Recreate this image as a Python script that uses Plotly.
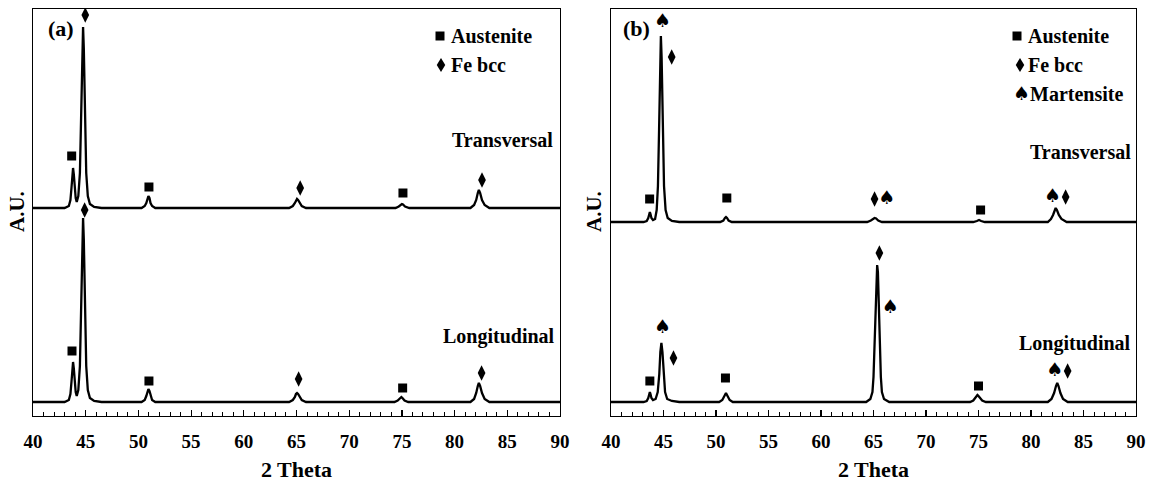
import plotly.graph_objects as go

# ---------------- data (2-theta in degrees, intensity in A.U. above each pattern's baseline) -------------
A_TRANSVERSAL = [(40.0, 0), (43.0, 0), (43.4, 2), (43.55, 8), (43.65, 20), (43.73, 34), (43.8, 40), (43.87, 34),
                 (43.95, 20), (44.05, 10), (44.15, 6), (44.3, 12), (44.45, 35), (44.58, 90), (44.68, 160), (44.75, 181),
                 (44.82, 160), (44.92, 90), (45.05, 35), (45.2, 12), (45.4, 4), (45.8, 1), (46.5, 0),
                 (50.3, 0), (50.6, 2), (50.75, 5), (50.85, 10), (50.95, 12), (51.05, 10), (51.15, 5), (51.3, 2), (51.6, 0),
                 (64.3, 0), (64.65, 2), (64.85, 5), (64.95, 8), (65.05, 9), (65.15, 8), (65.3, 5), (65.5, 2), (65.9, 0),
                 (74.4, 0), (74.7, 1.5), (74.9, 3.5), (75.0, 4), (75.1, 3.5), (75.3, 1.5), (75.7, 0),
                 (81.5, 0), (81.85, 3), (82.05, 8), (82.2, 15), (82.3, 18), (82.42, 15), (82.6, 8), (82.85, 3), (83.3, 0),
                 (90.0, 0)]
A_LONGITUDINAL = [(40.0, 0), (43.0, 0), (43.4, 2), (43.55, 8), (43.65, 20), (43.73, 34), (43.8, 40), (43.87, 34),
                  (43.95, 20), (44.05, 10), (44.15, 6), (44.3, 12), (44.45, 36), (44.58, 92), (44.68, 163), (44.75, 184),
                  (44.82, 163), (44.92, 92), (45.05, 36), (45.2, 12), (45.4, 4), (45.8, 1), (46.5, 0),
                  (50.3, 0), (50.6, 2), (50.75, 6), (50.85, 11), (50.95, 13), (51.05, 11), (51.15, 6), (51.3, 2), (51.6, 0),
                  (64.3, 0), (64.65, 2), (64.85, 5), (64.95, 8), (65.05, 9), (65.15, 8), (65.3, 5), (65.5, 2), (65.9, 0),
                  (74.3, 0), (74.6, 1.5), (74.8, 4), (74.95, 5), (75.05, 4), (75.25, 1.5), (75.6, 0),
                  (81.5, 0), (81.85, 3), (82.05, 9), (82.2, 16), (82.3, 19), (82.42, 16), (82.6, 9), (82.85, 3), (83.3, 0),
                  (90.0, 0)]
B_TRANSVERSAL = [(40.0, 0), (43.1, 0), (43.4, 1), (43.55, 4), (43.65, 8), (43.7, 10), (43.76, 8), (43.85, 4),
                 (44.0, 2), (44.2, 3), (44.35, 12), (44.47, 36), (44.58, 93), (44.68, 165), (44.75, 186), (44.82, 165),
                 (44.92, 93), (45.05, 36), (45.2, 12), (45.4, 4), (45.8, 1), (46.5, 0),
                 (50.4, 0), (50.7, 1.5), (50.85, 4), (50.95, 5), (51.05, 4), (51.2, 1.5), (51.5, 0),
                 (64.4, 0), (64.75, 1.5), (64.95, 3.5), (65.1, 4), (65.25, 3.5), (65.45, 1.5), (65.8, 0),
                 (74.5, 0), (74.85, 1), (75.05, 2), (75.25, 1), (75.6, 0),
                 (81.6, 0), (81.9, 3), (82.1, 7), (82.25, 12), (82.35, 14), (82.47, 12), (82.65, 7), (82.9, 3), (83.4, 0),
                 (90.0, 0)]
B_LONGITUDINAL = [(40.0, 0), (43.1, 0), (43.4, 1), (43.55, 4), (43.65, 8), (43.7, 10), (43.76, 8), (43.85, 4),
                  (44.0, 2), (44.25, 3), (44.45, 10), (44.6, 28), (44.7, 50), (44.8, 59), (44.9, 50), (45.0, 28),
                  (45.15, 10), (45.35, 3), (45.8, 1), (46.5, 0),
                  (50.3, 0), (50.6, 2), (50.8, 6), (50.95, 9), (51.1, 6), (51.3, 2), (51.6, 0),
                  (64.3, 0), (64.7, 3), (64.9, 10), (65.0, 25), (65.1, 55), (65.2, 100), (65.28, 130), (65.35, 137),
                  (65.42, 130), (65.5, 100), (65.6, 55), (65.7, 25), (65.8, 10), (66.0, 3), (66.5, 0),
                  (74.2, 0), (74.5, 1.5), (74.7, 4), (74.82, 6), (74.9, 7), (75.0, 6), (75.15, 4), (75.35, 1.5), (75.7, 0),
                  (81.6, 0), (81.95, 3), (82.2, 9), (82.38, 16), (82.5, 19), (82.62, 16), (82.8, 9), (83.05, 3), (83.5, 0),
                  (90.0, 0)]

# phase markers (2-theta, A.U. on the shared stacked scale)
A_AUS_X = [43.67, 51.0, 75.1, 43.7, 51.0, 75.07]
A_AUS_Y = [246, 215, 209, 51, 21, 14]
A_FE_X = [44.96, 65.35, 82.6, 44.9, 65.2, 82.56]
A_FE_Y = [387, 214, 222, 192, 23, 29]
B_AUS_X = [43.68, 51.03, 75.2, 43.7, 50.9, 75.0]
B_AUS_Y = [203, 204, 192, 21, 24, 16]
B_FE_X = [45.78, 65.1, 83.3, 45.95, 65.56, 83.49]
B_FE_Y = [345, 203, 205, 44, 149, 31]
B_MART_X = [44.9, 66.27, 82.05, 44.9, 66.6, 82.27]
B_MART_Y = [380, 203, 205, 74, 94, 31]

X_TICKS = [40, 45, 50, 55, 60, 65, 70, 75, 80, 85, 90]

# ---------------- layout helpers -------------
W, H = 1150, 482
ML, MR, MT, MB = 33, 14, 9, 66
PW = W - ML - MR
PH = H - MT - MB
A_OFFSET = 194   # vertical shift of the transversal pattern, panel (a)
B_OFFSET = 180   # panel (b)


def px(x):
    return (x - ML) / PW


def py(y):
    return (H - MB - y) / PH


SERIF = "Liberation Serif"
fig = go.Figure()


def add_curve(points, offset, xa, ya):
    fig.add_trace(go.Scatter(x=[p[0] for p in points], y=[p[1] + offset for p in points],
                             mode="lines", line=dict(color="black", width=2.3),
                             xaxis=xa, yaxis=ya, showlegend=False, hoverinfo="skip"))


add_curve(A_TRANSVERSAL, A_OFFSET, "x", "y")
add_curve(A_LONGITUDINAL, 0, "x", "y")
add_curve(B_TRANSVERSAL, B_OFFSET, "x2", "y2")
add_curve(B_LONGITUDINAL, 0, "x2", "y2")


def add_markers(xs, ys, symbol, size, xa, ya):
    fig.add_trace(go.Scatter(x=xs, y=ys, mode="markers",
                             marker=dict(symbol=symbol, size=size, color="black", line_width=0),
                             xaxis=xa, yaxis=ya, showlegend=False, hoverinfo="skip"))


add_markers(A_AUS_X, A_AUS_Y, "square", 9, "x", "y")
add_markers(A_FE_X, A_FE_Y, "diamond-tall", 11, "x", "y")
add_markers(B_AUS_X, B_AUS_Y, "square", 9, "x2", "y2")
add_markers(B_FE_X, B_FE_Y, "diamond-tall", 11, "x2", "y2")
fig.add_trace(go.Scatter(x=B_MART_X, y=B_MART_Y, mode="text", text=["♠"] * len(B_MART_X),
                         textposition="middle center",
                         textfont=dict(family="DejaVu Sans", size=19, color="black"),
                         xaxis="x2", yaxis="y2", showlegend=False, hoverinfo="skip"))

xcommon = dict(range=[40, 90], tickvals=X_TICKS, ticks="inside", ticklen=6, tickwidth=1.2, tickcolor="black",
               showline=True, linecolor="black", linewidth=1.3, mirror=True, showgrid=False, zeroline=False,
               tickfont=dict(family=SERIF, size=19, color="black", weight="bold"),
               minor=dict(dtick=1, tick0=40, ticks="inside", ticklen=4, tickwidth=1, tickcolor="black", showgrid=False),
               ticklabelstandoff=8, fixedrange=True)
ycommon = dict(range=[-14, 393], showticklabels=False, ticks="", showline=True, linecolor="black", linewidth=1.3,
               mirror=True, showgrid=False, zeroline=False, fixedrange=True)

fig.update_layout(
    width=W, height=H, margin=dict(l=ML, r=MR, t=MT, b=MB, autoexpand=False),
    paper_bgcolor="white", plot_bgcolor="white",
    xaxis=dict(domain=[0, px(560)], anchor="y", **xcommon),
    yaxis=dict(domain=[0, 1], anchor="x", **ycommon),
    xaxis2=dict(domain=[px(611), 1], anchor="y2", **xcommon),
    yaxis2=dict(domain=[0, 1], anchor="x2", **ycommon),
)

annotations = []


def text(t, x, y, size=20, xanchor="left", angle=0, family=SERIF, bold=True):
    annotations.append(dict(text=("<b>%s</b>" % t) if bold else t, x=px(x), y=py(y), xref="paper", yref="paper",
                            xanchor=xanchor, yanchor="middle", showarrow=False, textangle=angle,
                            font=dict(family=family, size=size, color="black")))


text("(a)", 46, 28, 22)
text("(b)", 621, 28, 22)
text("Austenite", 449, 36)
text("Fe bcc", 449, 65)
text("Austenite", 1026, 36)
text("Fe bcc", 1026, 65)
text("Martensite", 1028, 94)
text("♠", 1021, 93, 19, "center", family="DejaVu Sans", bold=False)
text("Transversal", 555, 140, 20, "right")
text("Longitudinal", 557, 336, 20, "right")
text("Transversal", 1133, 152, 20, "right")
text("Longitudinal", 1133, 343, 20, "right")
text("A.U.", 17, 212, 21, "center", angle=-90)
text("A.U.", 594, 212, 21, "center", angle=-90)
text("2 Theta", 296, 469, 22, "center")
text("2 Theta", 873, 469, 22, "center")
fig.update_layout(annotations=annotations)

shapes = []


def sq(cx, cy, s=9):
    shapes.append(dict(type="rect", xref="paper", yref="paper", xsizemode="pixel", ysizemode="pixel",
                       xanchor=px(cx), yanchor=py(cy), x0=-s / 2, x1=s / 2, y0=-s / 2, y1=s / 2,
                       fillcolor="black", line=dict(width=0)))


def dia(cx, cy, w=8.5, h=14):
    shapes.append(dict(type="path", xref="paper", yref="paper", xsizemode="pixel", ysizemode="pixel",
                       xanchor=px(cx), yanchor=py(cy),
                       path="M 0 %g L %g 0 L 0 %g L %g 0 Z" % (h / 2, w / 2, -h / 2, -w / 2),
                       fillcolor="black", line=dict(width=0)))


sq(440, 36)
dia(441, 65)
sq(1017, 36)
dia(1020, 65)
fig.update_layout(shapes=shapes)

fig.write_html("out.html", config={"displayModeBar": False, "staticPlot": True},
               post_script="document.body.style.margin='0px';document.body.style.overflow='hidden';")
